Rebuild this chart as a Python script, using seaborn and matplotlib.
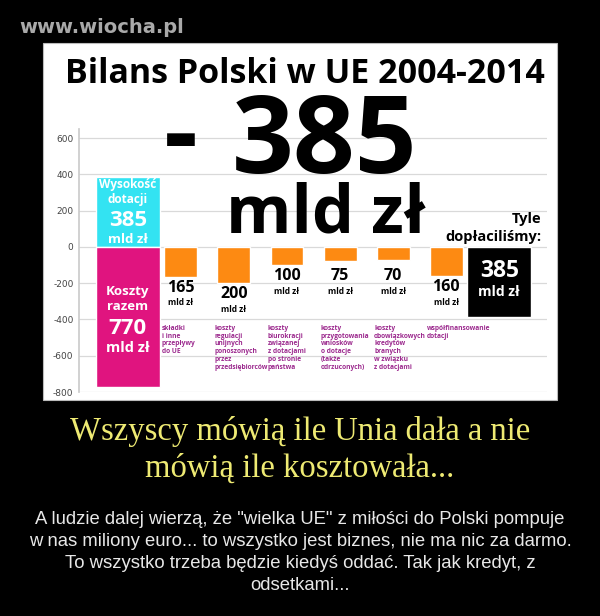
import seaborn as sns
import matplotlib.pyplot as plt
from matplotlib.patches import Rectangle

# dane (mld zł)
dotacje = 385
koszty_razem = 770
bilans = -385
koszty = [165, 200, 100, 75, 70, 160]
kategorie = ["razem", "składki", "regulacje", "biurokracja", "wnioski",
             "kredyty", "współfinansowanie", "bilans"]
opisy = [
    "składki\ni inne\nprzepływy\ndo UE",
    "koszty\nregulacji\nunijnych\nponoszonych\nprzez\nprzedsiębiorców",
    "koszty\nbiurokracji\nzwiązanej\nz dotacjami\npo stronie\npaństwa",
    "koszty\nprzygotowania\nwniosków\no dotacje\n(także\nodrzuconych)",
    "koszty\nobowiązkowych\nkredytów\nbranych\nw związku\nz dotacjami",
    "współfinansowanie\ndotacji",
]
yticks = [-800, -600, -400, -200, 0, 200, 400, 600]

tytul = "Bilans Polski w UE 2004-2014"
podpis = ["Wszyscy mówią ile Unia dała a nie", "mówią ile kosztowała..."]
komentarz = [
    'A ludzie dalej wierzą, że "wielka UE" z miłości do Polski pompuje',
    "w nas miliony euro... to wszystko jest biznes, nie ma nic za darmo.",
    "To wszystko trzeba będzie kiedyś oddać. Tak jak kredyt, z",
    "odsetkami...",
]

cyan = "#33e3f2"
magenta = "#e0147f"
orange = "#fd8a12"
purple = "#9c2a8e"

sns.set_theme(style="white")
plt.rcParams['font.family'] = ['Open Sans', 'DejaVu Sans']
plt.rcParams['axes.unicode_minus'] = False

fig = plt.figure(figsize=(6, 6.16), dpi=100, facecolor="black")
fig.patches.append(Rectangle((43 / 600, 1 - 400 / 616), 514 / 600, 357 / 616,
                             transform=fig.transFigure, facecolor="white",
                             edgecolor="#bbbbbb", lw=0.8, zorder=-5))
ax = fig.add_axes([79 / 600, 1 - 392 / 616, 468 / 600, 263 / 616])
ax.set_facecolor("none")

# słupki
sns.barplot(x=["razem"], y=[dotacje], order=kategorie, width=1.21,
            color=cyan, saturation=1, errorbar=None, ax=ax)
sns.barplot(x=["razem"], y=[-koszty_razem], order=kategorie, width=1.21,
            color=magenta, saturation=1, errorbar=None, ax=ax)
sns.barplot(x=kategorie[1:7], y=[-v for v in koszty], order=kategorie, width=0.62,
            color=orange, saturation=1, errorbar=None, ax=ax)
sns.barplot(x=["bilans"], y=[bilans], order=kategorie, width=1.21,
            color="black", saturation=1, errorbar=None, ax=ax)

ax.set_xlim(-0.92, 7.9)
ax.set_ylim(-800, 650)
ax.set_yticks(yticks)
ax.set_xticks([])
ax.set_xlabel("")
ax.set_ylabel("")
ax.yaxis.grid(True, color="#d9d9d9", lw=0.9)
ax.set_axisbelow(True)
for s in ["top", "right", "bottom"]:
    ax.spines[s].set_visible(False)
ax.spines["left"].set_color("#cccccc")
ax.tick_params(axis="y", labelsize=6.5, labelcolor="#444444", length=0, pad=4)
for lab in ax.get_yticklabels():
    lab.set_family(["DejaVu Sans"])

# napisy na słupkach
bold = dict(fontweight="bold", ha="center", va="center")
ax.text(0, 345, "Wysokość", color="white", fontsize=8.5, **bold)
ax.text(0, 262, "dotacji", color="white", fontsize=8.5, **bold)
ax.text(0, 148, str(dotacje), color="white", fontsize=16, **bold)
ax.text(0, 42, "mld zł", color="white", fontsize=9.5, **bold)
ax.text(0, -245, "Koszty", color="white", fontsize=9.5, **bold)
ax.text(0, -330, "razem", color="white", fontsize=9.5, **bold)
ax.text(0, -448, str(koszty_razem), color="white", fontsize=16, **bold)
ax.text(0, -560, "mld zł", color="white", fontsize=10.5, **bold)
ax.text(7, -135, str(-bilans), color="white", fontsize=16.5, **bold)
ax.text(7, -250, "mld zł", color="white", fontsize=10, **bold)

for i, (v, opis) in enumerate(zip(koszty, opisy), start=1):
    y = -max(v, 100) - 62
    ax.text(i, y, str(v), color="black", fontsize=11.5, **bold)
    ax.text(i, y - 82, "mld zł", color="black", fontsize=6, **bold)
    ax.text(i - 0.36, -430, opis, color=purple, fontsize=4.8, fontweight="bold",
            ha="left", va="top", linespacing=1.15)

# nagłówki
fig.text(0.508, 0.8653, tytul, fontsize=24.5, fontweight="bold", ha="center",
         va="baseline", color="black")
fig.text(0.3017, 0.7273, "-", fontsize=76, fontweight="bold", ha="center",
         va="baseline", color="black")
fig.text(0.541, 0.7192, str(-bilans), fontsize=78, fontweight="bold", ha="center",
         va="baseline", color="black")
fig.text(0.543, 0.6218, "mld zł", fontsize=48, fontweight="bold", ha="center",
         va="baseline", color="black")
fig.text(0.9017, 1 - 223 / 616, "Tyle", fontsize=10.5, fontweight="bold",
         ha="right", va="baseline", color="black")
fig.text(0.9017, 1 - 241 / 616, "dopłaciliśmy:", fontsize=10.5, fontweight="bold",
         ha="right", va="baseline", color="black")

fig.text(0.032, 1 - 33 / 616, "www.wiocha.pl", fontsize=14, fontweight="bold",
         family=["DejaVu Sans"], color="#a9a9a9", ha="left", va="baseline")

for linia, yb in zip(podpis, [440, 477]):
    fig.text(0.5, 1 - yb / 616, linia, fontsize=23.5, family=["Liberation Serif"],
             color="#eeea73", ha="center", va="baseline")
for linia, yb in zip(komentarz, [524, 546, 568, 590]):
    fig.text(0.5, 1 - yb / 616, linia, fontsize=13.3, family=["Liberation Sans"],
             color="#e8e8e8", ha="center", va="baseline")

fig.savefig("out.png", dpi=100, facecolor="black")
